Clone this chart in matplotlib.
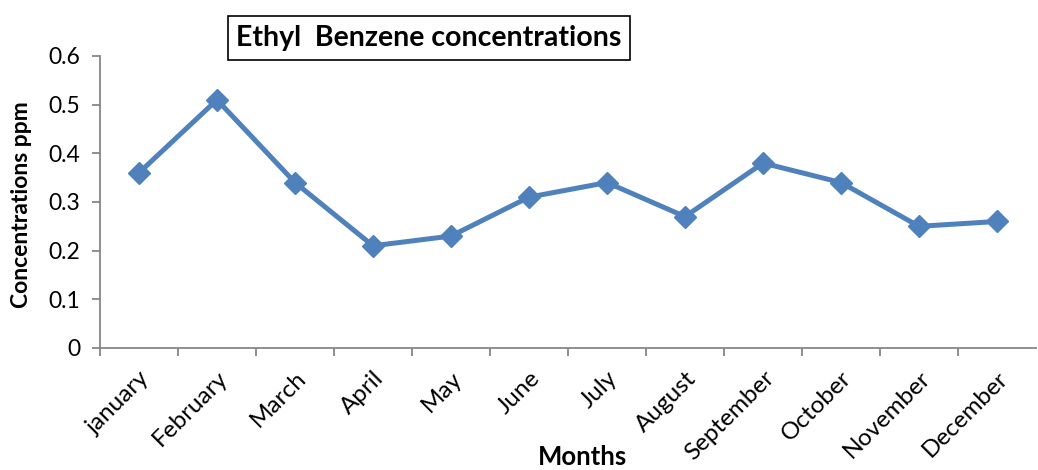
import matplotlib
matplotlib.use("Agg")
import matplotlib.pyplot as plt
import numpy as np

months = ["january", "February", "March", "April", "May", "June", "July",
          "August", "September", "October", "November", "December"]
values = [0.36, 0.51, 0.34, 0.21, 0.23, 0.31, 0.34, 0.27, 0.38, 0.34, 0.25, 0.26]
yticks = [0, 0.1, 0.2, 0.3, 0.4, 0.5, 0.6]
ytick_labels = ["0", "0.1", "0.2", "0.3", "0.4", "0.5", "0.6"]

plt.rcParams['font.family'] = ['Lato', 'DejaVu Sans']

fig = plt.figure(figsize=(10.38, 4.70), dpi=100)
ax = fig.add_axes([100/1038, 1-348/470, 936/1038, (348-56)/470])

x = np.arange(len(months))
ax.plot(x, values, color='#4F81BD', lw=3.6, marker='D', markersize=11,
        markerfacecolor='#4F81BD', markeredgecolor='#4F81BD', clip_on=False, zorder=3)

ax.set_xlim(-0.5, len(months) - 0.5)
ax.set_ylim(0, 0.6)
ax.set_yticks(yticks)
ax.set_yticklabels(ytick_labels, fontsize=16.5)

ax.set_xticks(np.arange(-0.5, len(months) - 0.5, 1.0))
ax.set_xticklabels([])
ax.set_xticks(x, minor=True)
ax.set_xticklabels(months, minor=True, rotation=45, ha='right', va='top',
                   rotation_mode='anchor', fontsize=17.5)
ax.tick_params(axis='x', which='minor', length=0, pad=14)
ax.tick_params(axis='x', which='major', length=6, width=1.3, color='#868686')
ax.tick_params(axis='y', length=6, width=1.3, color='#868686', pad=8)

for s in ['top', 'right']:
    ax.spines[s].set_visible(False)
for s in ['left', 'bottom']:
    ax.spines[s].set_color('#868686')
    ax.spines[s].set_linewidth(1.3)

fig.text(22/1038, 1-205/470, "Concentrations ppm", fontsize=16.5, fontweight='bold',
         ha='center', va='center', rotation=90)
fig.text(583/1038, 1-457/470, "Months", fontsize=18.5, fontweight='bold',
         ha='center', va='center')

fig.text(429/1038, 1-38/470, "Ethyl  Benzene concentrations", fontsize=20.5,
         fontweight='bold', ha='center', va='center',
         bbox=dict(boxstyle='square,pad=0.3', facecolor='white',
                   edgecolor='black', linewidth=1.2))

fig.savefig("out.png", dpi=100)
